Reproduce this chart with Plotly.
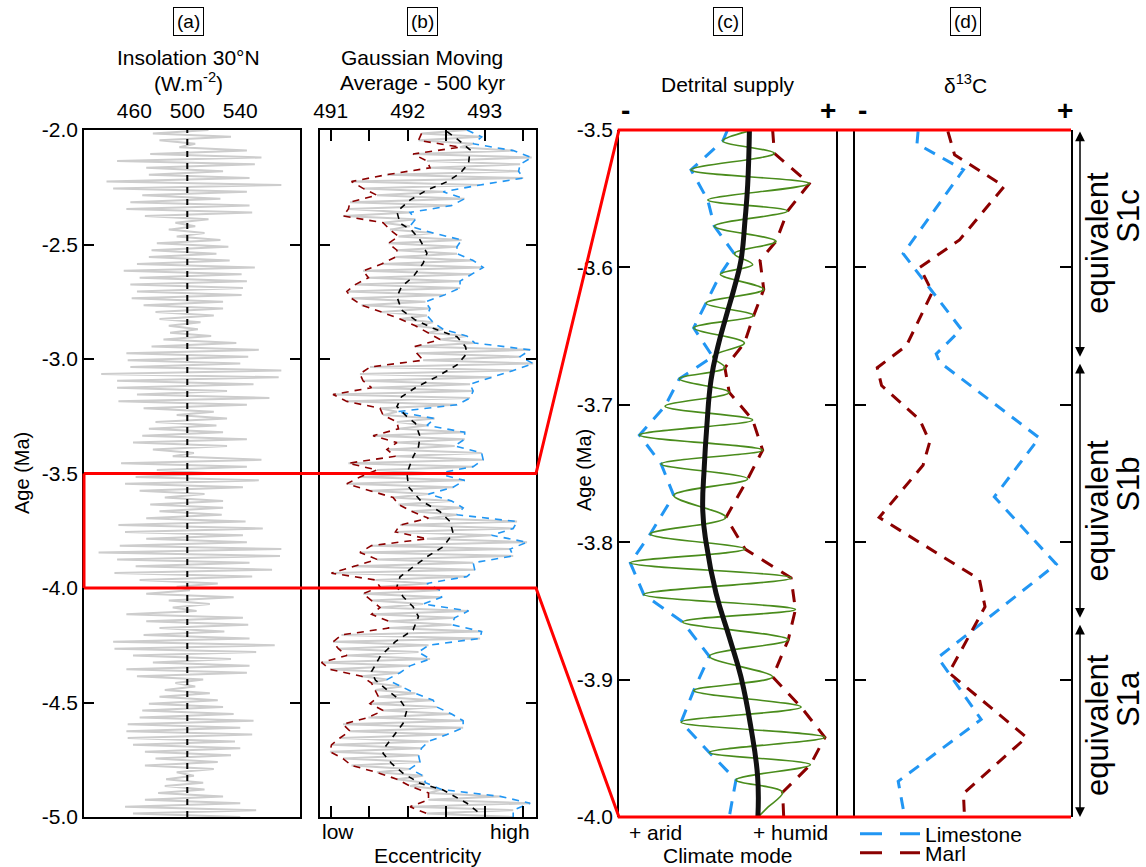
import plotly.graph_objects as go

W, H = 1146, 867
FONT = "Liberation Sans, Arial, Helvetica, sans-serif"

# ---------------- Panel (a): insolation 30N (W/m2), extremes every 15 kyr ----------------
AGE_START = -2.0
AGE_STEP = 0.015
insolation = [
    516, 474, 533, 479, 506, 494, 545, 472, 556, 447,
    551, 469, 527, 471, 547, 439, 571, 444, 545, 466,
    525, 457, 547, 454, 549, 468, 516, 491, 506, 486,
    513, 492, 525, 477, 531, 473, 522, 471, 532, 462,
    551, 452, 541, 464, 545, 457, 542, 462, 541, 458,
    527, 467, 527, 476, 520, 479, 510, 486, 508, 487,
    518, 482, 537, 473, 554, 454, 546, 455, 540, 457,
    571, 435, 569, 447, 550, 447, 530, 462, 562, 448,
    545, 467, 520, 492, 530, 476, 522, 471, 527, 466,
    545, 459, 530, 474, 505, 489, 556, 450, 545, 477,
    522, 461, 554, 453, 542, 464, 513, 483, 527, 472,
    527, 479, 526, 469, 544, 448, 557, 453, 542, 469,
    545, 449, 571, 433, 570, 447, 547, 461, 564, 445,
    549, 464, 523, 492, 502, 469, 535, 486, 517, 489,
    507, 454, 542, 469, 546, 479, 528, 467, 547, 444,
    566, 445, 552, 459, 533, 474, 547, 454, 545, 462,
    512, 491, 506, 483, 517, 479, 523, 471, 527, 466,
    535, 464, 550, 455, 540, 454, 549, 455, 536, 459,
    540, 468, 533, 476, 523, 468, 520, 492, 505, 484,
    512, 483, 513, 478, 527, 468, 540, 453, 552, 459,
    540,
]
ins_age = [round(AGE_START - AGE_STEP * i, 4) for i in range(len(insolation))]
MEAN_INSOLATION = 500
ins_ticks = [435, 460, 485, 510, 535, 560]
ins_labels = [460, 500, 540]

# ---------------- Panel (b): eccentricity filtered (arbitrary units) ----------------
eccentricity = [
    492.77, 492.18, 492.96, 492.14, 492.85, 492.68, 493.37, 492.07, 493.61, 492.25,
    493.46, 492.29, 493.44, 491.73, 493.50, 491.27, 492.94, 491.42, 492.46, 491.60,
    492.74, 491.25, 492.57, 491.23, 492.03, 491.16, 492.10, 491.68, 492.03, 491.77,
    492.33, 491.88, 492.70, 491.75, 492.64, 491.86, 492.64, 491.84, 492.85, 491.66,
    492.98, 491.42, 492.83, 491.49, 492.68, 491.32, 492.68, 491.21, 492.48, 491.27,
    492.23, 491.40, 492.29, 491.66, 492.25, 491.90, 492.33, 492.10, 492.46, 492.27,
    492.77, 492.42, 492.87, 492.10, 493.59, 492.12, 493.46, 492.20, 493.63, 491.51,
    493.37, 491.38, 493.09, 491.42, 492.81, 491.53, 492.85, 491.03, 492.81, 491.21,
    492.64, 491.64, 491.86, 491.68, 492.35, 491.86, 492.25, 491.88, 492.74, 491.55,
    492.74, 491.86, 492.61, 491.73, 492.96, 491.84, 492.98, 491.23, 492.85, 491.60,
    492.38, 491.38, 492.74, 491.21, 492.59, 491.51, 492.27, 491.81, 492.57, 491.88,
    492.72, 492.05, 492.64, 492.27, 493.42, 491.90, 493.37, 491.84, 493.09, 492.25,
    493.55, 491.53, 493.33, 491.38, 493.37, 491.60, 492.85, 491.29, 492.87, 491.01,
    492.77, 491.58, 492.25, 491.64, 492.42, 491.42, 492.44, 491.53, 492.20, 491.64,
    492.79, 491.53, 492.61, 491.75, 492.57, 491.75, 492.96, 491.14, 492.94, 491.03,
    492.27, 491.10, 492.14, 491.21, 492.29, 490.88, 492.03, 490.99, 491.90, 491.40,
    491.73, 491.53, 491.92, 491.58, 492.10, 491.62, 492.33, 491.51, 492.38, 491.68,
    492.57, 491.49, 492.72, 491.16, 492.72, 491.25, 492.51, 491.12, 492.27, 491.01,
    492.18, 490.99, 492.14, 491.16, 492.16, 491.27, 492.03, 491.60, 492.20, 491.86,
    492.23, 492.03, 492.44, 492.27, 493.20, 492.27, 493.59, 492.03, 493.37, 492.25,
    493.37,
]
ecc_age = [round(AGE_START - AGE_STEP * i, 4) for i in range(len(eccentricity))]
gma_age = [-2.007, -2.044, -2.087, -2.146, -2.189, -2.226, -2.262, -2.306, -2.357, -2.407,
           -2.437, -2.480, -2.538, -2.582, -2.641, -2.684, -2.728, -2.786, -2.830, -2.866,
           -2.903, -2.946, -2.975, -3.026, -3.077, -3.121, -3.165, -3.208, -3.252, -3.281,
           -3.339, -3.383, -3.427, -3.485, -3.499, -3.558, -3.616, -3.667, -3.710, -3.761,
           -3.820, -3.863, -3.907, -3.951, -3.994, -4.038, -4.082, -4.125, -4.183, -4.234,
           -4.300, -4.365, -4.402, -4.445, -4.489, -4.533, -4.591, -4.649, -4.693, -4.722,
           -4.766, -4.809, -4.853, -4.882, -4.940, -4.991]
gma_val = [492.51, 492.66, 492.81, 492.79, 492.68, 492.51, 492.25, 492.03, 491.86, 491.90,
           492.05, 492.16, 492.25, 492.20, 492.07, 491.92, 491.86, 491.92, 492.10, 492.33,
           492.64, 492.75, 492.77, 492.64, 492.38, 492.12, 491.92, 491.86, 491.99, 492.10,
           492.16, 492.14, 492.07, 492.01, 491.99, 492.01, 492.16, 492.42, 492.55, 492.59,
           492.46, 492.25, 492.07, 491.90, 491.86, 491.94, 492.07, 492.14, 492.07, 491.84,
           491.64, 491.53, 491.58, 491.73, 491.90, 491.99, 491.94, 491.81, 491.71, 491.68,
           491.79, 491.94, 492.16, 492.46, 492.77, 492.96]
ecc_ticks = [491, 491.5, 492, 492.5, 493, 493.5]
ecc_ticktext = ["491", "", "492", "", "493", ""]

# ---------------- Panel (c): detrital supply (arbitrary units 0-100) ----------------
green_age = [-3.501, -3.508, -3.517, -3.529, -3.539, -3.551, -3.559, -3.570, -3.581, -3.590,
             -3.598, -3.605, -3.616, -3.626, -3.635, -3.644, -3.655, -3.665, -3.673, -3.681,
             -3.691, -3.701, -3.711, -3.722, -3.733, -3.743, -3.754, -3.766, -3.782, -3.794,
             -3.805, -3.815, -3.826, -3.838, -3.849, -3.858, -3.871, -3.883, -3.898, -3.908,
             -3.920, -3.931, -3.942, -3.953, -3.962, -3.973, -3.982, -3.993, -3.999]
green_val = [59.3, 47.8, 71.6, 33.2, 87.7, 40.9, 77.7, 43.9, 72.4, 53.1,
             61.6, 46.7, 66.7, 40.1, 62.1, 34.4, 57.8, 43.2, 48.8, 27.8,
             50.8, 21.2, 61.6, 9.4, 66.2, 19.4, 59.3, 25.2, 49.3, 14.4,
             58.1, 5.2, 79.3, 11.4, 81.3, 29.3, 78.0, 41.6, 70.8, 34.4,
             83.9, 28.6, 94.9, 41.6, 88.2, 53.9, 75.4, 68.5, 64.7]
trend_age = [-3.500, -3.540, -3.565, -3.595, -3.615, -3.636, -3.658, -3.682, -3.715,
             -3.745, -3.777, -3.800, -3.837, -3.869, -3.898, -3.935, -3.971, -4.000]
trend_val = [60.1, 59.3, 58.1, 56.2, 53.1, 49.3, 45.5, 42.4, 40.5,
             39.3, 38.6, 40.1, 44.7, 50.8, 56.2, 60.8, 63.9, 64.0]
arid_age = [-3.500, -3.508, -3.529, -3.551, -3.570, -3.590, -3.605, -3.626, -3.644, -3.665,
            -3.681, -3.701, -3.722, -3.743, -3.766, -3.794, -3.815, -3.838, -3.858, -3.883,
            -3.908, -3.931, -3.953, -3.973, -4.000]
arid_val = [50.0, 47.8, 33.2, 40.9, 43.9, 53.1, 46.7, 40.1, 34.4, 43.2,
            27.8, 21.2, 9.4, 19.4, 25.2, 14.4, 5.2, 11.4, 29.3, 41.6,
            34.4, 28.6, 41.6, 53.9, 50.8]
humid_age = [-3.500, -3.517, -3.539, -3.559, -3.581, -3.595, -3.616, -3.635, -3.655, -3.673,
             -3.691, -3.711, -3.733, -3.754, -3.782, -3.805, -3.826, -3.849, -3.871, -3.898,
             -3.920, -3.942, -3.962, -3.982, -4.000]
humid_val = [70.8, 71.6, 87.7, 77.7, 72.4, 65.0, 66.7, 62.1, 57.8, 48.8,
             50.8, 61.6, 66.2, 59.3, 49.3, 58.1, 79.3, 81.3, 78.0, 70.8,
             83.9, 94.9, 88.2, 75.4, 75.9]

# ---------------- Panel (d): d13C (arbitrary units 0-100) ----------------
limestone_age = [-3.501, -3.510, -3.529, -3.590, -3.645, -3.663, -3.669, -3.724,
                 -3.767, -3.816, -3.884, -3.929, -3.974, -4.000]
limestone_val = [29.2, 28.7, 50.2, 22.3, 49.2, 37.6, 39.2, 85.3,
                 64.5, 93.2, 38.4, 58.4, 20.0, 23.0]
marl_age = [-3.501, -3.518, -3.541, -3.580, -3.600, -3.618, -3.657, -3.673, -3.686, -3.711,
            -3.727, -3.744, -3.782, -3.827, -3.847, -3.895, -3.942, -3.983, -4.000]
marl_val = [43.0, 46.1, 69.1, 48.4, 30.0, 35.8, 23.8, 10.3, 12.3, 30.0,
            34.6, 31.5, 11.2, 57.6, 60.2, 43.5, 79.4, 50.2, 50.7]

# equivalent S1 intervals: (name, top age, bottom age, label centre age)
segments = [("S1c", -3.500, -3.665, -3.582),
            ("S1b", -3.669, -3.855, -3.777),
            ("S1a", -3.859, -4.000, -3.933)]

# ---------------- layout geometry ----------------
RANGE_A = [422.0, 585.1]
RANGE_B = [490.861, 493.666]
AGE_RANGE_AB = [-5.0, -2.0]
AGE_RANGE_CD = [-4.0, -3.5]
ZOOM_AGE = (-3.5, -4.0)

dom_a = [84 / W, 300 / W]
dom_b = [320 / W, 536 / W]
dom_c = [619 / W, 836 / W]
dom_d = [855 / W, 1071 / W]
dom_y = [1 - 817 / H, 1 - 130 / H]

RED = "#ff0000"
BLUE = "#2196f3"
DRED = "#8b0000"

fig = go.Figure()

# (a)
fig.add_trace(go.Scatter(x=insolation, y=ins_age, mode="lines",
                         line=dict(color="#cdcdcd", width=2), xaxis="x", yaxis="y",
                         showlegend=False, hoverinfo="skip"))
fig.add_trace(go.Scatter(x=[MEAN_INSOLATION, MEAN_INSOLATION], y=AGE_RANGE_AB, mode="lines",
                         line=dict(color="black", width=2, dash="6px,6px"), xaxis="x", yaxis="y",
                         showlegend=False, hoverinfo="skip"))

# (b)
fig.add_trace(go.Scatter(x=eccentricity, y=ecc_age, mode="lines",
                         line=dict(color="#cdcdcd", width=2), xaxis="x2", yaxis="y2",
                         showlegend=False, hoverinfo="skip"))
fig.add_trace(go.Scatter(x=eccentricity[1::2], y=ecc_age[1::2], mode="lines",
                         line=dict(color=DRED, width=1.6, dash="7px,6px"), xaxis="x2", yaxis="y2",
                         showlegend=False, hoverinfo="skip"))
fig.add_trace(go.Scatter(x=eccentricity[0::2], y=ecc_age[0::2], mode="lines",
                         line=dict(color=BLUE, width=1.6, dash="7px,6px"), xaxis="x2", yaxis="y2",
                         showlegend=False, hoverinfo="skip"))
fig.add_trace(go.Scatter(x=gma_val, y=gma_age, mode="lines",
                         line=dict(color="black", width=1.6, dash="6px,6px"), xaxis="x2", yaxis="y2",
                         showlegend=False, hoverinfo="skip"))

# (c)
fig.add_trace(go.Scatter(x=arid_val, y=arid_age, mode="lines",
                         line=dict(color=BLUE, width=3, dash="13px,10px"), xaxis="x3", yaxis="y3",
                         showlegend=False, hoverinfo="skip"))
fig.add_trace(go.Scatter(x=humid_val, y=humid_age, mode="lines",
                         line=dict(color=DRED, width=3, dash="13px,10px"), xaxis="x3", yaxis="y3",
                         showlegend=False, hoverinfo="skip"))
fig.add_trace(go.Scatter(x=green_val, y=green_age, mode="lines",
                         line=dict(color="#4a8c1c", width=1.6, shape="spline", smoothing=1.0),
                         xaxis="x3", yaxis="y3", showlegend=False, hoverinfo="skip"))
fig.add_trace(go.Scatter(x=trend_val, y=trend_age, mode="lines",
                         line=dict(color="#111111", width=5, shape="spline", smoothing=1.3),
                         xaxis="x3", yaxis="y3", showlegend=False, hoverinfo="skip"))

# (d)
fig.add_trace(go.Scatter(x=limestone_val, y=limestone_age, mode="lines",
                         line=dict(color=BLUE, width=3, dash="12px,9px"), xaxis="x4", yaxis="y4",
                         showlegend=False, hoverinfo="skip"))
fig.add_trace(go.Scatter(x=marl_val, y=marl_age, mode="lines",
                         line=dict(color=DRED, width=3, dash="12px,9px"), xaxis="x4", yaxis="y4",
                         showlegend=False, hoverinfo="skip"))
# legend entries (one legend each, to control spacing)
fig.add_trace(go.Scatter(x=[None], y=[None], mode="lines", name="Limestone", legend="legend",
                         line=dict(color=BLUE, width=3, dash="22px,18px"), xaxis="x4", yaxis="y4"))
fig.add_trace(go.Scatter(x=[None], y=[None], mode="lines", name="Marl", legend="legend2",
                         line=dict(color=DRED, width=3, dash="22px,18px"), xaxis="x4", yaxis="y4"))

common_axis = dict(showgrid=False, zeroline=False, linecolor="black", linewidth=1.5,
                   tickcolor="black", tickwidth=1.5, tickfont=dict(size=21, color="black"),
                   automargin=False)

age_ticks_ab = [-2.0, -2.5, -3.0, -3.5, -4.0, -4.5, -5.0]
age_ticks_cd = [-3.5, -3.6, -3.7, -3.8, -3.9, -4.0]

fig.update_layout(
    xaxis=dict(domain=dom_a, anchor="y", side="top", range=RANGE_A,
               tickvals=ins_labels, ticktext=[str(v) for v in ins_labels], ticks="",
               showline=True, mirror=True, ticklabelstandoff=2, **common_axis),
    xaxis5=dict(overlaying="x", anchor="y", side="top", range=RANGE_A,
                tickvals=ins_ticks, ticks="inside", ticklen=11, mirror="ticks",
                showticklabels=False, showline=False, **common_axis),
    yaxis=dict(domain=dom_y, anchor="x", range=AGE_RANGE_AB, tickvals=age_ticks_ab,
               ticktext=[f"{v:.1f}" for v in age_ticks_ab], ticks="inside", ticklen=10,
               mirror="ticks", showline=True, **common_axis),
    xaxis2=dict(domain=dom_b, anchor="y2", side="top", range=RANGE_B,
                tickvals=ecc_ticks, ticktext=ecc_ticktext, ticks="inside", ticklen=11,
                mirror="ticks", showline=True, ticklabelstandoff=2, **common_axis),
    yaxis2=dict(domain=dom_y, anchor="x2", range=AGE_RANGE_AB, tickvals=age_ticks_ab,
                showticklabels=False, ticks="inside", ticklen=10, mirror="ticks",
                showline=True, **common_axis),
    xaxis3=dict(domain=dom_c, anchor="y3", range=[0, 100], showline=False,
                showticklabels=False, ticks="", **common_axis),
    yaxis3=dict(domain=dom_y, anchor="x3", range=AGE_RANGE_CD, tickvals=age_ticks_cd,
                ticktext=[f"{v:.1f}" for v in age_ticks_cd], ticks="inside", ticklen=11,
                mirror="ticks", showline=True, **common_axis),
    xaxis4=dict(domain=dom_d, anchor="y4", range=[0, 100], showline=False,
                showticklabels=False, ticks="", **common_axis),
    yaxis4=dict(domain=dom_y, anchor="x4", range=AGE_RANGE_CD, tickvals=age_ticks_cd,
                showticklabels=False, ticks="inside", ticklen=11, mirror="ticks",
                showline=True, **common_axis),
)


def age_to_paper_ab(age):
    return dom_y[0] + (age - AGE_RANGE_AB[0]) / (AGE_RANGE_AB[1] - AGE_RANGE_AB[0]) * (dom_y[1] - dom_y[0])


y_top_zoom = age_to_paper_ab(ZOOM_AGE[0])
y_bot_zoom = age_to_paper_ab(ZOOM_AGE[1])
path = (f"M{dom_a[0]},{y_top_zoom} L{dom_b[1]},{y_top_zoom} L{dom_c[0]},{dom_y[1]} L{dom_d[1]},{dom_y[1]} "
        f"M{dom_a[0]},{y_bot_zoom} L{dom_b[1]},{y_bot_zoom} L{dom_c[0]},{dom_y[0]} L{dom_d[1]},{dom_y[0]} "
        f"M{dom_a[0]},{y_top_zoom} L{dom_a[0]},{y_bot_zoom}")
shapes = [dict(type="path", xref="paper", yref="paper", path=path, layer="above",
               line=dict(color=RED, width=3))]


def ann(text, x, y, size=21, **kw):
    d = dict(text=text, x=x / W, y=1 - y / H, xref="paper", yref="paper", showarrow=False,
             font=dict(size=size, color="black", family=FONT), xanchor="center", yanchor="middle")
    d.update(kw)
    return d


annotations = []
for lab, xc in [("(a)", 188), ("(b)", 422), ("(c)", 728), ("(d)", 965)]:
    annotations.append(ann(lab, xc, 22, size=19, bordercolor="black", borderwidth=1, borderpad=3))
annotations += [
    ann("Insolation 30°N", 188, 58),
    ann("(W.m<sup>-2</sup>)", 188, 82),
    ann("Gaussian Moving", 422, 58),
    ann("Average - 500 kyr", 422, 82),
    ann("Detrital supply", 728, 84),
    ann("δ<sup>13</sup>C", 965, 84),
    ann("<b>-</b>", 625, 110, size=28),
    ann("<b>+</b>", 828, 110, size=28),
    ann("<b>-</b>", 862, 110, size=28),
    ann("<b>+</b>", 1065, 110, size=28),
    ann("low", 338, 831),
    ann("high", 510, 831),
    ann("Eccentricity", 428, 855),
    ann("+ arid", 655, 832),
    ann("+ humid", 790, 832),
    ann("Climate mode", 728, 855),
    ann("Age (Ma)", 22, 473, size=20, textangle=-90),
    ann("Age (Ma)", 584, 470, size=20, textangle=-90),
]

ARROW_X = (1080 - 855) / 216
EQUIV_X = (1098 - 855) / 216
NAME_X = (1129 - 855) / 216
for name, a0, a1, mid in segments:
    annotations.append(dict(text="", xref="x4 domain", yref="y4", x=ARROW_X, y=a1,
                            axref="x4 domain", ayref="y4", ax=ARROW_X, ay=a0,
                            showarrow=True, arrowhead=2, arrowside="end+start",
                            arrowsize=1.3, arrowwidth=1.5, arrowcolor="black", standoff=0,
                            startstandoff=0))
    annotations.append(dict(text="equivalent", xref="x4 domain", yref="y4",
                            x=EQUIV_X, y=mid, showarrow=False, textangle=-90,
                            font=dict(size=31, color="black", family=FONT),
                            xanchor="center", yanchor="middle"))
    annotations.append(dict(text=name, xref="x4 domain", yref="y4",
                            x=NAME_X, y=mid, yshift=26, showarrow=False, textangle=-90,
                            font=dict(size=31, color="black", family=FONT),
                            xanchor="center", yanchor="middle"))

legend_common = dict(x=855 / W, xanchor="left", yanchor="middle",
                     bgcolor="rgba(0,0,0,0)", borderwidth=0, font=dict(size=21, color="black"),
                     itemwidth=60, tracegroupgap=0)

fig.update_layout(
    width=W, height=H, autosize=False,
    margin=dict(l=0, r=0, t=0, b=0, autoexpand=False),
    paper_bgcolor="white", plot_bgcolor="white",
    template="none",
    font=dict(family=FONT, size=21, color="black"),
    shapes=shapes, annotations=annotations,
    showlegend=True,
    legend=dict(y=1 - 834 / H, **legend_common),
    legend2=dict(y=1 - 853 / H, **legend_common),
)

fig.write_html("out.html")
